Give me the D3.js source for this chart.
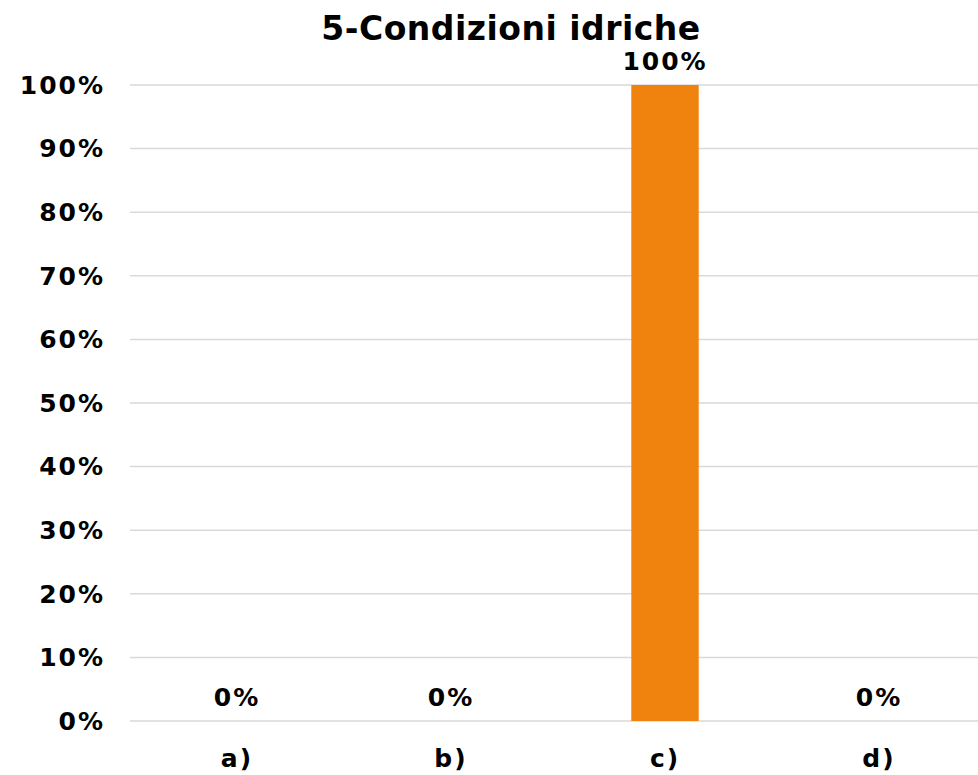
<!DOCTYPE html>
<html>
<head>
<meta charset="utf-8">
<script src="https://cdn.jsdelivr.net/npm/d3@7"></script>
<style>
  body { margin: 0; background: #fff; }
  text { font-family: "DejaVu Sans", Verdana, sans-serif; font-weight: bold; fill: #000; }
</style>
</head>
<body>
<svg id="chart" width="978" height="775"></svg>
<script>
const categories = ['a)', 'b)', 'c)', 'd)'];
const values = [0, 0, 1, 0];
const yTicks = [0, 0.1, 0.2, 0.3, 0.4, 0.5, 0.6, 0.7, 0.8, 0.9, 1];
const title = '5-Condizioni idriche';

const svg = d3.select('svg#chart');
const margin = { top: 85, right: -8, bottom: 54, left: 130 };
const width = +svg.attr('width') - margin.left - margin.right;
const height = +svg.attr('height') - margin.top - margin.bottom;
const g = svg.append('g').attr('transform', `translate(${margin.left},${margin.top})`);

const x = d3.scaleBand().domain(categories).range([0, width]).paddingInner(0.685).paddingOuter(0.3425);
const y = d3.scaleLinear().domain([0, 1]).range([height, 0]);
const fmt = d3.format('.0%');

// gridlines
g.selectAll('line.grid')
  .data(yTicks)
  .join('line')
  .attr('class', 'grid')
  .attr('x1', 0).attr('x2', width)
  .attr('y1', d => y(d)).attr('y2', d => y(d))
  .attr('stroke', '#d9d9d9')
  .attr('stroke-width', 1.5);

// y labels
g.selectAll('text.ytick')
  .data(yTicks)
  .join('text')
  .attr('class', 'ytick')
  .attr('x', -25)
  .attr('y', d => y(d))
  .attr('dy', '0.35em')
  .attr('text-anchor', 'end')
  .style('font-size', '25px')
  .style('letter-spacing', '2px')
  .text(fmt);

// bars
g.selectAll('rect.bar')
  .data(values)
  .join('rect')
  .attr('class', 'bar')
  .attr('x', (d, i) => x(categories[i]))
  .attr('width', x.bandwidth())
  .attr('y', d => y(d))
  .attr('height', d => height - y(d))
  .attr('fill', '#f0820e');

// value labels
g.selectAll('text.val')
  .data(values)
  .join('text')
  .attr('class', 'val')
  .attr('x', (d, i) => x(categories[i]) + x.bandwidth() / 2)
  .attr('y', d => y(d) - 15)
  .attr('text-anchor', 'middle')
  .style('font-size', '25px')
  .style('letter-spacing', '2px')
  .text(fmt);

// category labels
g.selectAll('text.cat')
  .data(categories)
  .join('text')
  .attr('class', 'cat')
  .attr('x', d => x(d) + x.bandwidth() / 2)
  .attr('y', height + 46)
  .attr('text-anchor', 'middle')
  .style('font-size', '25px')
  .style('letter-spacing', '2px')
  .text(d => d);

svg.append('text')
  .attr('x', 511)
  .attr('y', 40)
  .attr('text-anchor', 'middle')
  .style('font-size', '33px')
  .style('letter-spacing', '0.5px')
  .text(title);
</script>
</body>
</html>
